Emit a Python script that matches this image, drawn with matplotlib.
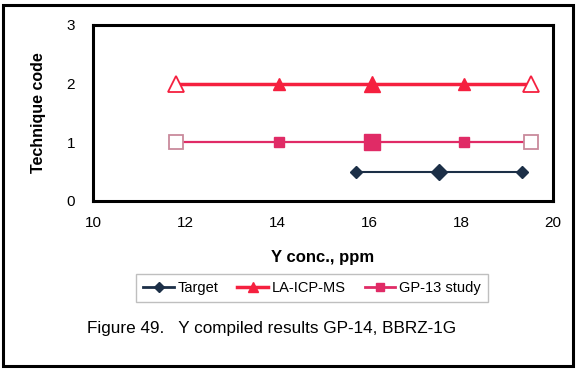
import matplotlib
matplotlib.use("Agg")
import matplotlib.pyplot as plt
from matplotlib.lines import Line2D
from matplotlib.patches import Rectangle

plt.rcParams['font.family'] = ['Liberation Sans', 'DejaVu Sans']

# Y concentration (ppm) for each technique row
target_x = [15.72, 17.52, 19.33]
target_y = [0.5, 0.5, 0.5]

la_x = [11.80, 14.05, 16.07, 18.07, 19.52]
la_y = [2, 2, 2, 2, 2]

gp13_x = [11.80, 14.05, 16.07, 18.07, 19.52]
gp13_y = [1, 1, 1, 1, 1]

series_names = ["Target", "LA-ICP-MS", "GP-13 study"]
x_ticks = [10, 12, 14, 16, 18, 20]
y_ticks = [0, 1, 2, 3]

c_target = "#1c2f47"
c_la = "#f5203f"
c_gp = "#e02b66"

W, H = 576, 369
fig = plt.figure(figsize=(W / 100, H / 100), dpi=100)
ax = fig.add_axes([93 / W, 1 - 201 / H, (553 - 93) / W, (201 - 25) / H])

# Target row: small diamonds at the ends, larger diamond in the middle
ax.plot(target_x, target_y, color=c_target, lw=1.5, zorder=2)
for i, (x, y) in enumerate(zip(target_x, target_y)):
    ms = 8.5 if i == 1 else 6
    ax.plot([x], [y], marker="D", ms=ms, color=c_target, mec=c_target, zorder=3)

# LA-ICP-MS row: open triangles at the range ends, filled in between
ax.plot(la_x, la_y, color=c_la, lw=2.5, zorder=2)
for i, (x, y) in enumerate(zip(la_x, la_y)):
    if i in (0, len(la_x) - 1):
        ax.plot([x], [y], marker="^", ms=11, mfc="white", mec=c_la, mew=1.3, zorder=3)
    else:
        ms = 11 if i == 2 else 8
        ax.plot([x], [y], marker="^", ms=ms, color=c_la, zorder=3)

# GP-13 study row: open squares at the ends, filled in between
ax.plot(gp13_x, gp13_y, color=c_gp, lw=1.6, zorder=2)
for i, (x, y) in enumerate(zip(gp13_x, gp13_y)):
    if i in (0, len(gp13_x) - 1):
        ax.plot([x], [y], marker="s", ms=10, mfc="white", mec="#c98a9c", mew=1.3, zorder=3)
    else:
        ms = 11 if i == 2 else 7
        ax.plot([x], [y], marker="s", ms=ms, color=c_gp, zorder=3)

ax.set_xlim(10, 20)
ax.set_ylim(0, 3)
ax.set_xticks(x_ticks)
ax.set_yticks(y_ticks)
ax.tick_params(length=0, labelsize=11)
ax.tick_params(axis="x", pad=11)
ax.tick_params(axis="y", pad=13)
for s in ax.spines.values():
    s.set_linewidth(2.2)
    s.set_color("black")

ax.set_xlabel("Y conc., ppm", fontsize=12, fontweight="bold", labelpad=14)
ax.set_ylabel("Technique code", fontsize=11.5, fontweight="bold", labelpad=15)

handles = [
    Line2D([], [], color=c_target, lw=2, marker="D", ms=5),
    Line2D([], [], color=c_la, lw=2.5, marker="^", ms=7),
    Line2D([], [], color=c_gp, lw=2, marker="s", ms=6),
]
leg = fig.legend(handles, series_names, loc="center", bbox_to_anchor=(312 / W, 1 - 288 / H),
                 ncol=3, fontsize=10.5, frameon=True, fancybox=False, handlelength=2.1,
                 handletextpad=0.25, columnspacing=1.3, borderpad=0.5, borderaxespad=0)
leg.get_frame().set_edgecolor("#b0b0b0")
leg.get_frame().set_linewidth(1.0)

fig.text(272 / W, 1 - 328 / H, "Figure 49.   Y compiled results GP-14, BBRZ-1G",
         ha="center", va="center", fontsize=12.3)

# Outer frame around the whole figure
fig.patches.append(Rectangle((3 / W, 3 / H), 570 / W, 361 / H, transform=fig.transFigure,
                             fill=False, edgecolor="black", linewidth=2.2))

fig.savefig("out.png", dpi=100)
